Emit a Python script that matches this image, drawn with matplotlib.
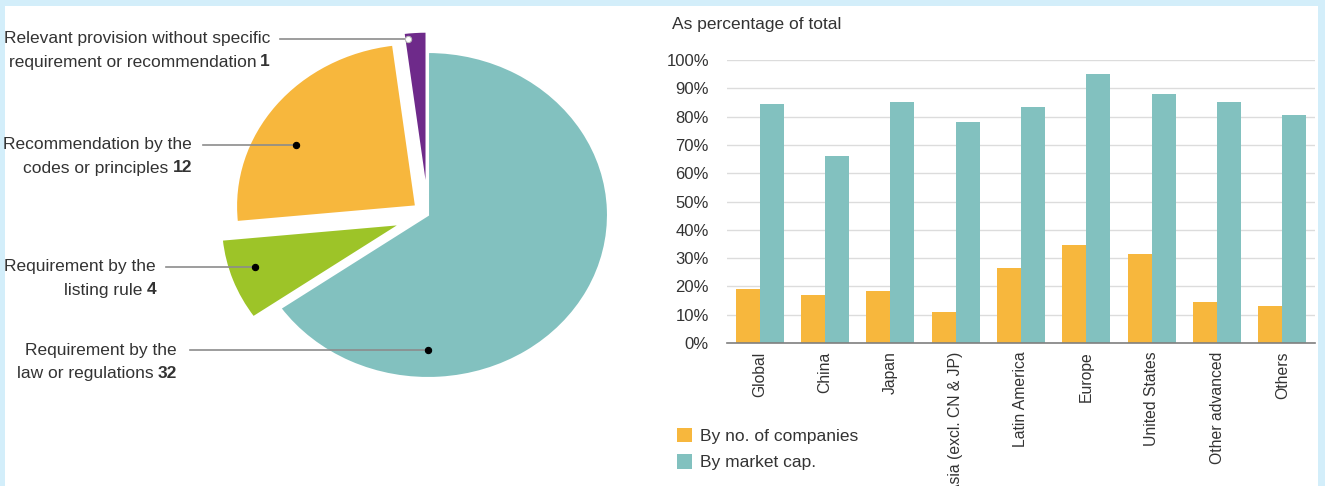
import matplotlib
matplotlib.use("Agg")
import matplotlib.pyplot as plt
from matplotlib.patches import Rectangle, Patch
import numpy as np

# ---------------- data ----------------
pie_labels = ["Requirement by the\nlaw or regulations",
              "Requirement by the\nlisting rule",
              "Recommendation by the\ncodes or principles",
              "Relevant provision without specific\nrequirement or recommendation"]
pie_values = [32, 4, 12, 1]

regions = ["Global", "China", "Japan", "Asia (excl. CN & JP)", "Latin America",
           "Europe", "United States", "Other advanced", "Others"]
by_companies = [19, 17, 18.5, 11, 26.5, 34.5, 31.5, 14.5, 13]
by_market_cap = [84.5, 66, 85, 78, 83.5, 95, 88, 85, 80.5]
yticks = [0, 10, 20, 30, 40, 50, 60, 70, 80, 90, 100]
ytick_labels = [f"{v}%" for v in yticks]
series_names = ["By no. of companies", "By market cap."]

# ---------------- style ----------------
TEAL = "#82c1bf"
ORANGE = "#f7b73d"
GREEN = "#9dc428"
PURPLE = "#6e2a8a"
TXT = "#333333"
BG = "#d3eefa"

plt.rcParams['font.family'] = ['Liberation Sans', 'DejaVu Sans']

W, H = 1325, 486
fig = plt.figure(figsize=(W / 100, H / 100), dpi=100)
fig.patch.set_facecolor(BG)
fig.patches.append(Rectangle((5 / W, 0), (1318 - 5) / W, (H - 6) / H,
                             transform=fig.transFigure, facecolor="white",
                             edgecolor="none", zorder=-10))


def fx(px):
    return px / W


def fy(py):
    return 1 - py / H


# ---------------- pie ----------------
cx, cy, rx, ry = 428, 215, 180, 163
xl, yl = (-1.4, 1.2), (-1.3, 1.3)
left = cx + xl[0] * rx
right = cx + xl[1] * rx
top = cy - yl[1] * ry
bottom = cy - yl[0] * ry
axp = fig.add_axes([fx(left), fy(bottom), (right - left) / W, (bottom - top) / H])
wedges, _ = axp.pie(pie_values, colors=[TEAL, GREEN, ORANGE, PURPLE],
                    startangle=90, counterclock=False,
                    explode=[0, 0.16, 0.085, 0.125],
                    wedgeprops=dict(linewidth=1.5, edgecolor="white"))
axp.set_aspect('auto')
axp.set_xlim(*xl)
axp.set_ylim(*yl)
axp.axis('off')

FS = 12.5
# label layout: (text right edge px, first line y px, dot px, line start px, dot color)
label_layout = [
    (177, 350, (428, 350), 190, "black"),
    (156, 267, (255, 267), 166, "black"),
    (192, 145, (296, 145), 203, "black"),
    (270, 39, (408, 39), 280, "white"),
]
renderer = fig.canvas.get_renderer()
for lab, val, (rxp, ly, dot, lstart, dcol) in zip(pie_labels, pie_values, label_layout):
    l1, l2 = lab.split("\n")
    fig.text(fx(rxp), fy(ly), l1, ha="right", va="center", fontsize=FS, color=TXT)
    num = fig.text(fx(rxp), fy(ly + 23), str(val), ha="right", va="center",
                   fontsize=FS, color=TXT, fontweight="bold")
    nw = num.get_window_extent(renderer).width
    fig.text(fx(rxp - nw - 4), fy(ly + 23), l2, ha="right", va="center",
             fontsize=FS, color=TXT)
    xd0 = (lstart - cx) / rx
    xd1 = (dot[0] - cx) / rx
    yd = (cy - dot[1]) / ry
    axp.plot([xd0, xd1], [yd, yd], color="#8c8c8c", lw=1.2, clip_on=False, zorder=5)
    axp.plot([xd1], [yd], marker="o", ms=4.5, color=dcol,
             mec="black" if dcol == "black" else "#bbbbbb", mew=0.8,
             clip_on=False, zorder=6)

# ---------------- bars ----------------
bl, br, bt, bb = 727, 1315, 60, 343
axb = fig.add_axes([fx(bl), fy(bb), (br - bl) / W, (bb - bt) / H])
x = np.arange(len(regions))
bw = 0.368
axb.bar(x - bw / 2, by_companies, bw, color=ORANGE, label=series_names[0], zorder=3)
axb.bar(x + bw / 2, by_market_cap, bw, color=TEAL, label=series_names[1], zorder=3)
axb.set_xlim(-0.5, len(regions) - 0.5)
axb.set_ylim(0, 100)
axb.set_yticks(yticks)
axb.set_yticklabels(ytick_labels)
axb.set_xticks(x)
axb.set_xticklabels(regions, rotation=90, va="top", ha="center")
axb.tick_params(axis="y", length=0, labelsize=12, colors=TXT, pad=13)
axb.tick_params(axis="x", length=0, labelsize=11.3, colors=TXT, pad=6)
axb.grid(axis="y", color="#dcdcdc", lw=1, zorder=0)
for s in ["top", "right", "left"]:
    axb.spines[s].set_visible(False)
axb.spines["bottom"].set_color("#7f7f7f")
axb.spines["bottom"].set_linewidth(1.2)
axb.spines["bottom"].set_zorder(4)
axb.set_facecolor("none")

fig.text(fx(672), fy(25), "As percentage of total", ha="left", va="center",
         fontsize=12.5, color=TXT)

handles = [Patch(facecolor=ORANGE, edgecolor="none"), Patch(facecolor=TEAL, edgecolor="none")]
fig.legend(handles, series_names, loc="upper left",
           bbox_to_anchor=(fx(661), fy(412)), frameon=False,
           handlelength=0.9, handleheight=0.9, handletextpad=0.45,
           labelspacing=0.6, fontsize=12.5, labelcolor=TXT)

fig.savefig("out.png", dpi=100, facecolor=fig.get_facecolor())
